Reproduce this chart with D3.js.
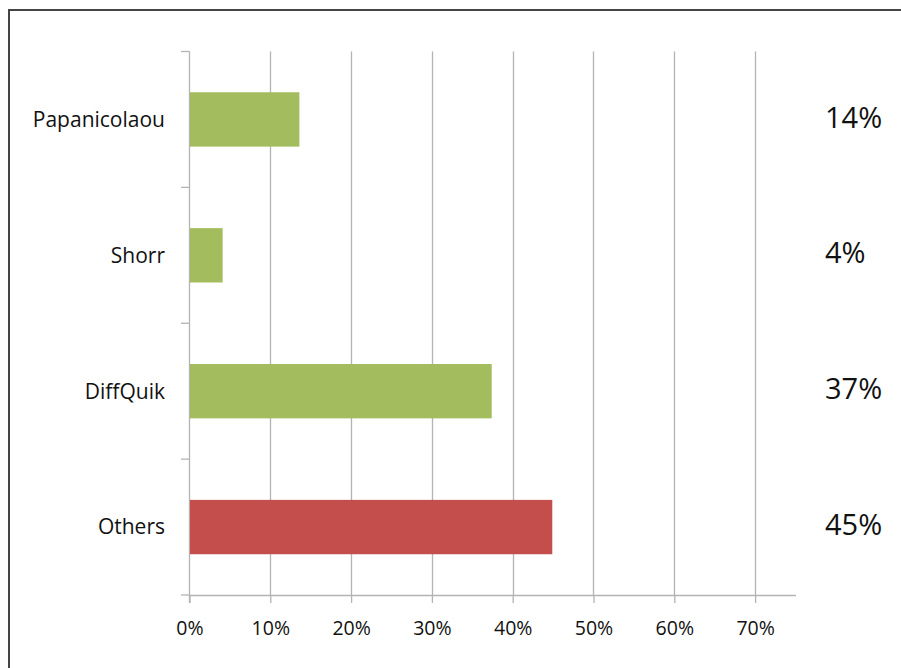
<!DOCTYPE html>
<html>
<head>
<meta charset="utf-8">
<script src="https://cdn.jsdelivr.net/npm/d3@7"></script>
<style>
  body { margin: 0; background: #fff; }
  text { font-family: "Open Sans", Lato, sans-serif; fill: #111; }
</style>
</head>
<body>
<script>
// Chart data
const categories = ["Papanicolaou", "Shorr", "DiffQuik", "Others"];
const values = [0.136, 0.041, 0.374, 0.449];
const valueLabels = ["14%", "4%", "37%", "45%"];
const barColors = ["#a2bc5e", "#a2bc5e", "#a2bc5e", "#c44e4b"];
const xTicks = [0, 0.1, 0.2, 0.3, 0.4, 0.5, 0.6, 0.7];

const width = 901, height = 668;

const svg = d3.select("body")
    .append("svg")
    .attr("width", width)
    .attr("height", height);

// Outer frame
svg.append("rect")
    .attr("x", 9)
    .attr("y", 10)
    .attr("width", 900)
    .attr("height", 700)
    .attr("fill", "none")
    .attr("stroke", "#444")
    .attr("stroke-width", 2);

const x = d3.scaleLinear()
    .domain([0, 0.75])
    .range([189.5, 795.5]);

const y = d3.scaleBand()
    .domain(categories)
    .range([51.5, 595])
    .paddingInner(0.6)
    .paddingOuter(0.3);

// Vertical gridlines
svg.append("g")
    .selectAll("line")
    .data(xTicks.slice(1))
    .enter()
    .append("line")
    .attr("x1", d => Math.round(x(d)) + 0.5)
    .attr("x2", d => Math.round(x(d)) + 0.5)
    .attr("y1", 51.5)
    .attr("y2", 595)
    .attr("stroke", "#b3b3b3")
    .attr("stroke-width", 1.3);

// X-axis
const xAxis = svg.append("g")
    .attr("transform", "translate(0,595)")
    .call(d3.axisBottom(x).tickValues(xTicks).tickFormat(d3.format(".0%")).tickSize(8).tickSizeOuter(0));
xAxis.select(".domain").attr("stroke", "#b3b3b3").attr("stroke-width", 1.3);
xAxis.selectAll(".tick line").attr("stroke", "#b3b3b3").attr("stroke-width", 1.3);
xAxis.selectAll(".tick text")
    .attr("y", 26)
    .style("font-size", "19.5px")
    .style("font-family", "'Open Sans', Lato, sans-serif")
    .attr("fill", "#111");

// Y-axis line with boundary ticks
const yStep = y.step();
const boundaries = d3.range(categories.length + 1).map(i => 51.5 + i * yStep);
svg.append("line")
    .attr("x1", 189.5).attr("x2", 189.5)
    .attr("y1", 51.5).attr("y2", 603)
    .attr("stroke", "#b3b3b3")
    .attr("stroke-width", 1.3);
svg.append("g")
    .selectAll("line")
    .data(boundaries)
    .enter()
    .append("line")
    .attr("x1", 181)
    .attr("x2", 189.5)
    .attr("y1", d => d)
    .attr("y2", d => d)
    .attr("stroke", "#b3b3b3")
    .attr("stroke-width", 1.3);

// Bars
svg.append("g")
    .selectAll("rect")
    .data(values)
    .enter()
    .append("rect")
    .attr("x", x(0) + 0.5)
    .attr("y", (d, i) => y(categories[i]))
    .attr("width", d => x(d) - x(0) - 0.5)
    .attr("height", y.bandwidth())
    .attr("fill", (d, i) => barColors[i]);

// Category labels
svg.append("g")
    .selectAll("text")
    .data(categories)
    .enter()
    .append("text")
    .attr("x", 165)
    .attr("y", d => y(d) + y.bandwidth() / 2)
    .attr("dy", "0.35em")
    .attr("text-anchor", "end")
    .style("font-size", "21px")
    .text(d => d);

// Value labels on the right
svg.append("g")
    .selectAll("text")
    .data(valueLabels)
    .enter()
    .append("text")
    .attr("x", 825)
    .attr("y", (d, i) => y(categories[i]) + y.bandwidth() / 2 - 2)
    .attr("dy", "0.35em")
    .attr("text-anchor", "start")
    .style("font-size", "29px")
    .text(d => d);
</script>
</body>
</html>
